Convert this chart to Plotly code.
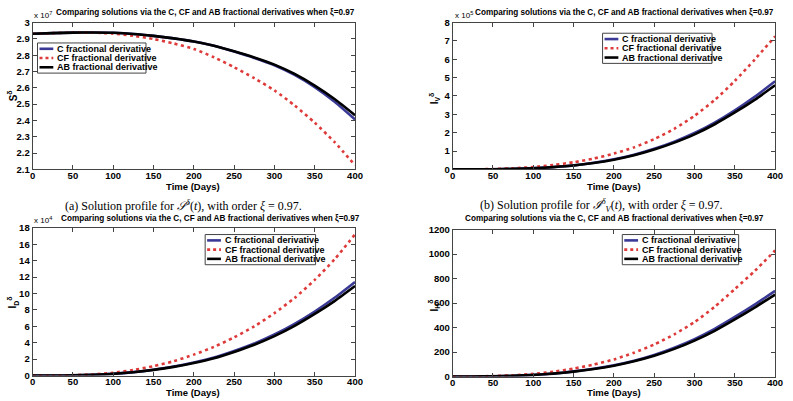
import plotly.graph_objects as go

# ---------------- data ----------------
t = [0, 25, 50, 75, 100, 125, 150, 175, 200, 225, 250, 275, 300, 325, 350, 375, 400]

# (a) S^delta, units of 1e7
S_C = [2.931, 2.935, 2.938, 2.939, 2.937, 2.930, 2.918, 2.903, 2.884, 2.858, 2.822, 2.783, 2.738, 2.679, 2.604, 2.513, 2.406]
S_CF = [2.931, 2.935, 2.938, 2.938, 2.932, 2.919, 2.899, 2.872, 2.838, 2.787, 2.726, 2.659, 2.584, 2.492, 2.386, 2.265, 2.125]
S_AB = [2.931, 2.935, 2.938, 2.939, 2.937, 2.930, 2.918, 2.903, 2.884, 2.858, 2.824, 2.786, 2.742, 2.685, 2.614, 2.530, 2.432]

# (b) I_V^delta, units of 1e5
IV_C = [0, 0.003, 0.01, 0.03, 0.07, 0.13, 0.22, 0.36, 0.55, 0.80, 1.12, 1.51, 1.98, 2.55, 3.22, 3.97, 4.80]
IV_CF = [0, 0.005, 0.02, 0.06, 0.13, 0.24, 0.39, 0.59, 0.86, 1.20, 1.65, 2.21, 2.92, 3.78, 4.82, 6.00, 7.25]
IV_AB = [0, 0.003, 0.01, 0.03, 0.065, 0.125, 0.21, 0.345, 0.53, 0.77, 1.08, 1.46, 1.91, 2.46, 3.10, 3.80, 4.58]

# I_D^delta, units of 1e4
ID_C = [0, 0.005, 0.03, 0.10, 0.22, 0.42, 0.72, 1.10, 1.60, 2.20, 3.00, 3.90, 5.00, 6.30, 7.80, 9.50, 11.4]
ID_CF = [0, 0.01, 0.05, 0.15, 0.35, 0.68, 1.15, 1.75, 2.55, 3.50, 4.65, 6.00, 7.60, 9.45, 11.65, 14.2, 17.2]
ID_AB = [0, 0.005, 0.03, 0.10, 0.21, 0.40, 0.69, 1.06, 1.54, 2.12, 2.88, 3.75, 4.80, 6.05, 7.50, 9.10, 10.9]

# I_H^delta
IH_C = [0, 0.5, 2, 6, 14, 25, 42, 64, 93, 130, 177, 236, 306, 390, 487, 590, 700]
IH_CF = [0, 1, 4, 10, 22, 40, 65, 98, 140, 195, 262, 345, 445, 570, 715, 865, 1030]
IH_AB = [0, 0.5, 2, 6, 13, 24, 40, 61, 89, 125, 170, 226, 294, 374, 467, 566, 670]

series_names = ["C fractional derivative", "CF fractional derivative", "AB fractional derivative"]

x_ticks = [0, 50, 100, 150, 200, 250, 300, 350, 400]
S_ticks = [2.1, 2.2, 2.3, 2.4, 2.5, 2.6, 2.7, 2.8, 2.9, 3.0]
S_ticktext = ["2.1", "2.2", "2.3", "2.4", "2.5", "2.6", "2.7", "2.8", "2.9", "3"]
IV_ticks = [0, 1, 2, 3, 4, 5, 6, 7, 8]
ID_ticks = [0, 2, 4, 6, 8, 10, 12, 14, 16, 18]
IH_ticks = [0, 200, 400, 600, 800, 1000, 1200]

title_text = "Comparing solutions via the C, CF and AB fractional derivatives when ξ=0.97"

# ---------------- styling ----------------
W, H = 793, 401
SANS = "Liberation Sans Narrow, Arial Narrow, Liberation Sans, Arial, sans-serif"
SERIF = "Liberation Serif, Times New Roman, DejaVu Serif, serif"
COL_C = "#3a3a96"
COL_CF = "#de3a3a"
COL_AB = "#000000"
AXC = "#444444"

def px(x):
    return x / W

def py(y):
    return 1 - y / H

# panel boxes in pixels: (left, top, right, bottom)
panels = [
    (30, 17, 357, 168),
    (456, 17, 783, 168),
    (30, 228, 357, 380),
    (456, 230, 783, 381),
]

data_sets = [
    (S_C, S_CF, S_AB, [2.1, 3.0], S_ticks, S_ticktext),
    (IV_C, IV_CF, IV_AB, [0, 8], IV_ticks, [str(v) for v in IV_ticks]),
    (ID_C, ID_CF, ID_AB, [0, 18], ID_ticks, [str(v) for v in ID_ticks]),
    (IH_C, IH_CF, IH_AB, [0, 1200], IH_ticks, [str(v) for v in IH_ticks]),
]

fig = go.Figure()
layout = dict(
    width=W, height=H,
    margin=dict(l=0, r=0, t=0, b=0),
    paper_bgcolor="white", plot_bgcolor="white",
    showlegend=False,
)

tickfont = dict(family=SANS, size=9.5, color="black", weight="bold")

for i, (p, ds) in enumerate(zip(panels, data_sets)):
    l, tp, r, b = p
    yc, ycf, yab, yr, yt, ytt = ds
    n = "" if i == 0 else str(i + 1)
    xa, ya = "x" + n, "y" + n
    for vals, col, dash, nm in [(yc, COL_C, "solid", series_names[0]),
                                (ycf, COL_CF, "3px,3.5px", series_names[1]),
                                (yab, COL_AB, "solid", series_names[2])]:
        fig.add_trace(go.Scatter(x=t, y=vals, mode="lines", name=nm,
                                 line=dict(color=col, width=2.6, dash=dash, shape="spline", smoothing=0.6),
                                 xaxis=xa, yaxis=ya, hoverinfo="skip"))
    layout["xaxis" + n] = dict(domain=[px(l), px(r)], range=[0, 400], anchor=ya,
                               tickvals=x_ticks, ticks="inside", ticklen=4, tickcolor=AXC,
                               showline=True, mirror="ticks", linecolor=AXC, linewidth=1,
                               showgrid=False, zeroline=False, tickfont=tickfont,
                               ticklabelstandoff=-3)
    layout["yaxis" + n] = dict(domain=[py(b), py(tp)], range=yr, anchor=xa,
                               tickvals=yt, ticktext=ytt, ticks="inside", ticklen=4, tickcolor=AXC,
                               showline=True, mirror="ticks", linecolor=AXC, linewidth=1,
                               showgrid=False, zeroline=False, tickfont=tickfont)

fig.update_layout(**layout)

annotations = []
shapes = []

def ann(x, y, text, size, family=SANS, bold=True, xanchor="center", yanchor="middle", angle=0, color="black"):
    annotations.append(dict(x=px(x), y=py(y), xref="paper", yref="paper", text=text,
                            showarrow=False, xanchor=xanchor, yanchor=yanchor, textangle=angle,
                            font=dict(family=family, size=size, color=color,
                                      weight="bold" if bold else "normal")))

# titles
ann(205, 7, title_text, 8.2)
ann(630, 7, title_text, 8.2)
ann(210, 219, title_text, 8.2)
ann(620, 219, title_text, 8.2)

# x axis titles
ann(193, 186, "Time (Days)", 9.5)
ann(620, 186, "Time (Days)", 9.5)
ann(193, 397.5, "Time (Days)", 9.5)
ann(620, 397.5, "Time (Days)", 9.5)

# y axis titles
ann(10, 92, "S<sup>δ</sup>", 10, angle=-90)
ann(437, 95, "I<sub>V</sub><sup>δ</sup>", 10, angle=-90)
ann(10, 305, "I<sub>D</sub><sup>δ</sup>", 10, angle=-90)
ann(437, 308, "I<sub>H</sub><sup>δ</sup>", 10, angle=-90)

# exponent labels
ann(29, 16, "x 10<sup>7</sup>", 8, bold=False, xanchor="left", yanchor="bottom")
ann(456, 16, "x 10<sup>5</sup>", 8, bold=False, xanchor="left", yanchor="bottom")
ann(29, 227, "x 10<sup>4</sup>", 8, bold=False, xanchor="left", yanchor="bottom")

# captions
ann(183, 205, "(a) Solution profile for <i>𝒮</i><sup><i>δ</i></sup>(<i>t</i>), with order <i>ξ</i> = 0.97.", 12, family=SERIF, bold=False)
ann(607, 205, "(b) Solution profile for <i>ℐ</i><sup><i>δ</i></sup><sub><i>V</i></sub>(<i>t</i>), with order <i>ξ</i> = 0.97.", 12, family=SERIF, bold=False)

# legends (box + samples + labels)
legend_boxes = [(35, 38, 110), (608, 28, 111), (205, 235, 112), (628, 235, 118)]
styles = [(COL_C, "solid"), (COL_CF, "3px,3px"), (COL_AB, "solid")]
for (lx, ly, lw) in legend_boxes:
    shapes.append(dict(type="rect", xref="paper", yref="paper",
                       x0=px(lx), x1=px(lx + lw), y0=py(ly + 31), y1=py(ly),
                       line=dict(color=AXC, width=1), fillcolor="white", layer="above"))
    for k, (nm, (col, dash)) in enumerate(zip(series_names, styles)):
        yy = ly + 6 + k * 9.5
        shapes.append(dict(type="line", xref="paper", yref="paper",
                           x0=px(lx + 2), x1=px(lx + 16), y0=py(yy), y1=py(yy),
                           line=dict(color=col, width=2.6, dash=dash), layer="above"))
        ann(lx + 18, yy, nm, 9, xanchor="left")

fig.update_layout(annotations=annotations, shapes=shapes)
fig.write_html("out.html", config={"displayModeBar": False},
               post_script="document.body.style.margin='0px';")
